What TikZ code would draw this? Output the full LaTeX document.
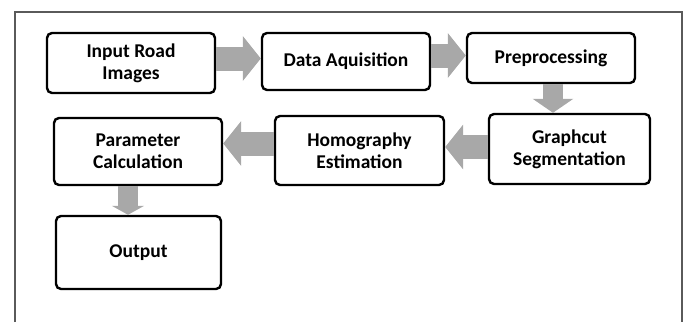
\documentclass[tikz,border=0pt]{standalone}
\usepackage{fontspec}
\setmainfont{Carlito}
\usepackage{xcolor}
\usetikzlibrary{arrows.meta, positioning}

\definecolor{framegray}{HTML}{5A5A5A}
\definecolor{flowgray}{HTML}{A8A8A8}

\begin{document}
\begin{tikzpicture}[
    x=1pt, y=-1pt,
    stage/.style={draw, line width=2.4pt, rectangle, rounded corners=5pt, align=center, font=\fontsize{19.5}{22}\selectfont\bfseries, inner sep=0pt},
    flow/.style={draw=flowgray, line width=24pt, -{Triangle[length=18pt, width=44pt]}},
    flowdown/.style={draw=flowgray, line width=20pt, -{Triangle[length=14pt, width=40pt]}},
    flowsmall/.style={draw=flowgray, line width=20pt, -{Triangle[length=9pt, width=32pt]}}
  ]
  \useasboundingbox (0,0) rectangle (683,322);

  % frame
  \draw[framegray, line width=1.3pt] (15,322) -- (15,12) -- (682,12) -- (682,322);

  % stages
  \node[stage, minimum width=168pt, minimum height=60pt] (inp) at (131,63) {Input Road\\Images};
  \node[stage, minimum width=168pt, minimum height=57pt] (daq) at (346,61.5) {Data Aquisition};
  \node[stage, minimum width=168pt, minimum height=50pt] (pre) at (551,58) {Preprocessing};
  \node[stage, minimum width=161pt, minimum height=70pt] (gcs) at (569.5,149) {Graphcut\\Segmentation};
  \node[stage, minimum width=169pt, minimum height=69pt] (hom) at (359.5,150.5) {Homography\\Estimation};
  \node[stage, minimum width=168pt, minimum height=67pt] (par) at (138,151.5) {Parameter\\Calculation};
  \node[stage, minimum width=165pt, minimum height=73pt] (out) at (138.5,252.5) {Output};

  % arrows
  \draw[flow] ([yshift=4.5pt]inp.east) -- ([yshift=4.5pt]inp.east -| daq.west);
  \draw[flow] ([yshift=6pt]daq.east) -- ([yshift=6pt]daq.east -| pre.west);
  \draw[flowdown] ([xshift=2pt]pre.south) -- ([xshift=2pt]pre.south |- gcs.north);
  \draw[flow] ([yshift=2pt]gcs.west) -- ([yshift=2pt]gcs.west -| hom.east);
  \draw[flow] ([yshift=7pt]hom.west) -- ([yshift=7pt]hom.west -| par.east);
  \draw[flowsmall] ([xshift=-10pt]par.south) -- ([xshift=-10pt]par.south |- out.north);
\end{tikzpicture}
\end{document}
